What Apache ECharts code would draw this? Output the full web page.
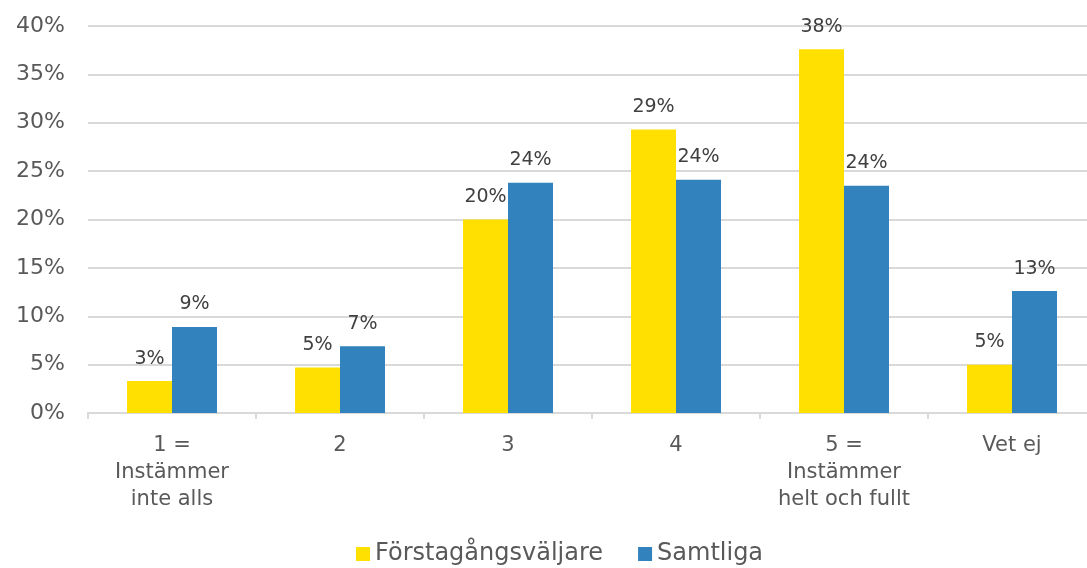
<!DOCTYPE html>
<html>
<head>
<meta charset="utf-8">
<style>
  html, body { margin: 0; padding: 0; background: #fff; }
  #main { width: 1087px; height: 568px; }
</style>
<script src="https://cdn.jsdelivr.net/npm/echarts@6/dist/echarts.min.js"></script>
</head>
<body>
<div id="main"></div>
<script>
const categories = ['1 =\nInstämmer\ninte alls', '2', '3', '4', '5 =\nInstämmer\nhelt och fullt', 'Vet ej'];
const firstTimeVoters = [3.3, 4.7, 20.0, 29.3, 37.6, 5.0];
const allVoters = [8.9, 6.9, 23.8, 24.1, 23.5, 12.6];
const seriesNames = ['Förstagångsväljare', 'Samtliga'];
const yTicks = [0, 5, 10, 15, 20, 25, 30, 35, 40];

const font = '"DejaVu Sans", sans-serif';
const chart = echarts.init(document.getElementById('main'));

const labelStyle = {
  show: true,
  position: 'top',
  distance: 13,
  color: '#404040',
  fontFamily: font,
  fontSize: 19,
  formatter: (p) => Math.round(p.value) + '%'
};

chart.setOption({
  animation: false,
  // plot area runs a little past the right edge, as in the original
  grid: { left: 88, width: 1008, top: 26, bottom: 155, outerBoundsMode: 'none', containLabel: false },
  legend: {
    bottom: -3,
    left: 351,
    itemWidth: 14,
    itemHeight: 14,
    itemGap: 35,
    icon: 'rect',
    textStyle: { color: '#595959', fontFamily: font, fontSize: 24 },
    data: seriesNames
  },
  xAxis: {
    type: 'category',
    data: categories,
    axisLine: { lineStyle: { color: '#d9d9d9', width: 2 } },
    axisTick: { show: true, length: 6, lineStyle: { color: '#d9d9d9', width: 2 } },
    axisLabel: {
      interval: 0,
      hideOverlap: false,
      color: '#595959',
      fontFamily: font,
      fontSize: 21,
      lineHeight: 27,
      margin: 19
    }
  },
  yAxis: {
    type: 'value',
    min: yTicks[0],
    max: yTicks[yTicks.length - 1],
    interval: 5,
    axisLine: { show: false },
    axisTick: { show: false },
    splitLine: { lineStyle: { color: '#d9d9d9', width: 2 } },
    axisLabel: {
      color: '#595959',
      fontFamily: font,
      fontSize: 22,
      margin: 23,
      formatter: '{value}%'
    }
  },
  series: [
    {
      name: seriesNames[0],
      type: 'bar',
      data: firstTimeVoters,
      barWidth: 45,
      barGap: '0%',
      itemStyle: { color: '#FFE000' },
      label: labelStyle
    },
    {
      name: seriesNames[1],
      type: 'bar',
      data: allVoters,
      barWidth: 45,
      itemStyle: { color: '#3182BD' },
      label: labelStyle
    }
  ]
});
</script>
</body>
</html>
